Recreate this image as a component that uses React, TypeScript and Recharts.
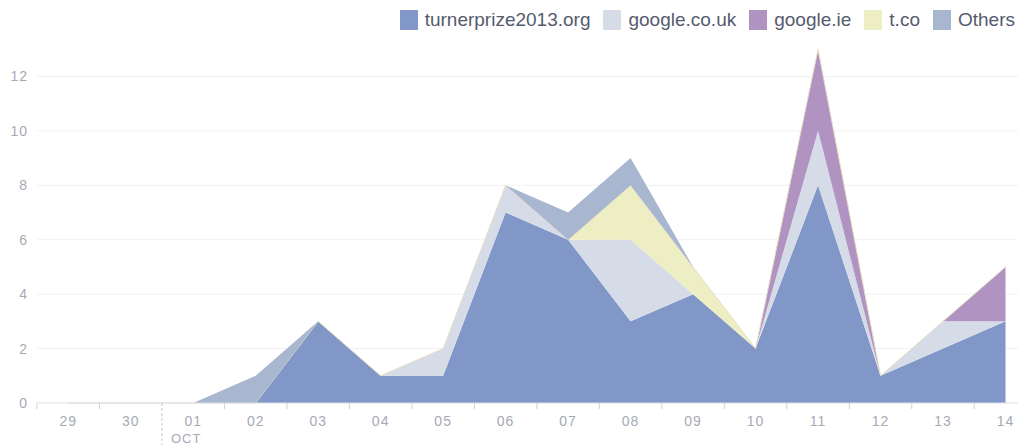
import { Area, AreaChart, CartesianGrid, XAxis, YAxis } from "recharts";

const days = ["29", "30", "01", "02", "03", "04", "05", "06", "07", "08", "09", "10", "11", "12", "13", "14"];
const turnerprize = [0, 0, 0, 0, 3, 1, 1, 7, 6, 3, 4, 2, 8, 1, 2, 3];
const googleCoUk = [0, 0, 0, 0, 0, 0, 1, 1, 0, 3, 0, 0, 2, 0, 1, 0];
const googleIe = [0, 0, 0, 0, 0, 0, 0, 0, 0, 0, 0, 0, 3, 0, 0, 2];
const tco = [0, 0, 0, 0, 0, 0, 0, 0, 0, 2, 1, 0, 0, 0, 0, 0];
const others = [0, 0, 0, 1, 0, 0, 0, 0, 1, 1, 0, 0, 0, 0, 0, 0];
const yTicks = [0, 2, 4, 6, 8, 10, 12];
const monthBreak = 2; // "01" starts OCT

const series = [
  { key: "turnerprize", name: "turnerprize2013.org", color: "#8097c7", values: turnerprize },
  { key: "googleCoUk", name: "google.co.uk", color: "#d6dbe8", values: googleCoUk },
  { key: "googleIe", name: "google.ie", color: "#b193c2", values: googleIe },
  { key: "tco", name: "t.co", color: "#eeeec5", values: tco },
  { key: "others", name: "Others", color: "#a9b6d0", values: others },
];

const data = days.map((d, i) => {
  const row: Record<string, number | string> = { idx: i, day: d };
  series.forEach((s) => (row[s.key] = s.values[i]));
  return row;
});

// labels sit on the whole numbers, tick marks between days
const xTicks: number[] = [];
for (let i = 0; i < days.length; i++) {
  xTicks.push(i - 0.5, i);
}

const FONT = '"Liberation Sans", Arial, sans-serif';
const TICK_COLOR = "#a7aab5";

function DayTick(props: any) {
  const { x, y, payload } = props;
  const v = payload.value as number;
  if (Number.isInteger(v)) {
    return (
      <text x={x} y={y + 23} textAnchor="middle" fill={TICK_COLOR} fontSize={14} letterSpacing={1} fontFamily={FONT}>
        {days[v]}
      </text>
    );
  }
  if (v === monthBreak - 0.5) {
    return (
      <g>
        <line x1={x} y1={y} x2={x} y2={y + 44} stroke="#c8c8c8" strokeDasharray="3 2" />
        <text x={x + 9} y={y + 40} textAnchor="start" fill={TICK_COLOR} fontSize={13} letterSpacing={1} fontFamily={FONT}>
          OCT
        </text>
      </g>
    );
  }
  return <line x1={x} y1={y} x2={x} y2={y + 6} stroke="#cfd1d6" />;
}

export default function App() {
  return (
    <div
      style={{
        position: "fixed",
        left: 0,
        top: 0,
        width: 1018,
        height: 445,
        overflow: "hidden",
        background: "#fff",
        fontFamily: FONT,
      }}
    >
      <AreaChart width={1018} height={445} data={data} margin={{ top: 22, right: 0, bottom: 0, left: 0 }}>
        <CartesianGrid
          vertical={false}
          stroke="#f1f1f3"
          horizontalValues={yTicks.filter((t) => t > 0)}
        />
        <XAxis
          dataKey="idx"
          type="number"
          domain={[-0.5, 15.2]}
          ticks={xTicks}
          interval={0}
          tick={<DayTick />}
          tickLine={false}
          tickSize={0}
          tickMargin={0}
          height={42}
          axisLine={{ stroke: "#dcdfe5" }}
          allowDataOverflow
        />
        <YAxis
          domain={[0, 14]}
          ticks={yTicks}
          width={37}
          axisLine={false}
          tickLine={false}
          tickSize={0}
          tickMargin={9}
          tick={{ fill: TICK_COLOR, fontSize: 14, letterSpacing: 1, fontFamily: FONT }}
        />
        {series.map((s) => (
          <Area
            key={s.key}
            type="linear"
            dataKey={s.key}
            name={s.name}
            stackId="1"
            fill={s.color}
            fillOpacity={1}
            stroke={s.key === "tco" ? "#e8dfc4" : "none"}
            strokeWidth={1}
            dot={false}
            activeDot={false}
            isAnimationActive={false}
          />
        ))}
      </AreaChart>
      <div
        style={{
          position: "absolute",
          top: 9,
          right: 3,
          display: "flex",
          alignItems: "center",
          fontSize: 19,
          color: "#555b6e",
        }}
      >
        {series.map((s) => (
          <div key={s.key} style={{ display: "flex", alignItems: "center", marginLeft: 13 }}>
            <span style={{ width: 18, height: 20, background: s.color, display: "inline-block", marginRight: 7 }} />
            <span>{s.name}</span>
          </div>
        ))}
      </div>
    </div>
  );
}
